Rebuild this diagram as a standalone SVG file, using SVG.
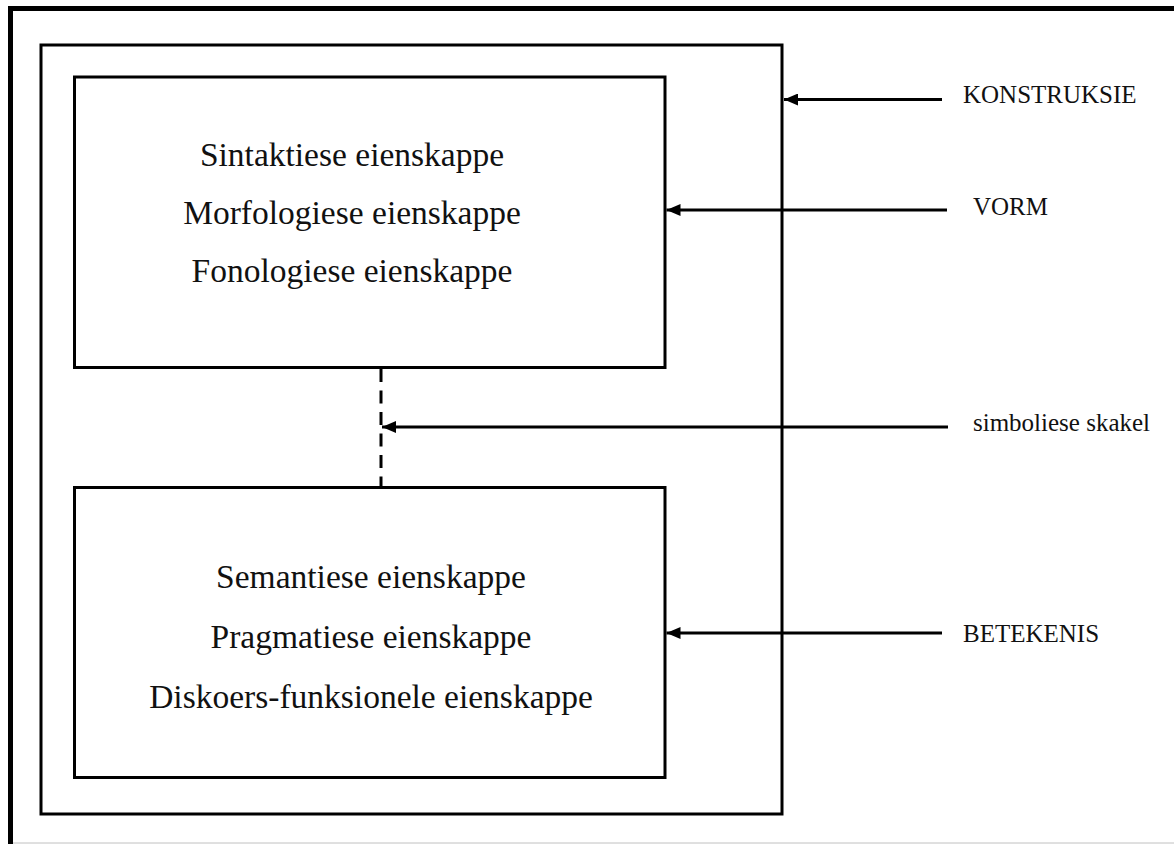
<svg xmlns="http://www.w3.org/2000/svg" width="1174" height="844" viewBox="0 0 1174 844">
<style>
.box{fill:none;stroke:#000;stroke-width:3}
.main{font-family:"Liberation Serif","Times New Roman",serif;font-size:33.5px;fill:#111;text-anchor:middle}
.lbl{font-family:"Liberation Serif","Times New Roman",serif;font-size:25px;fill:#111}
.conn{stroke:#000;stroke-width:3;fill:none}
</style>
<defs>
<marker id="ah" viewBox="0 0 14 12" refX="14" refY="6" markerWidth="14" markerHeight="12" markerUnits="userSpaceOnUse" orient="auto">
<path d="M0,0 L14,6 L0,12 z" fill="#000"/>
</marker>
</defs>
<rect width="1174" height="844" fill="#fff"/>
<g id="frame">
<path d="M10.5,844 V8.5 H1174" fill="none" stroke="#000" stroke-width="5"/>
<line x1="13" y1="843" x2="1174" y2="843" stroke="#c0c0c0" stroke-width="1"/>
</g>
<g id="konstruksie">
<rect class="box" x="41" y="45" width="741" height="769"/>
</g>
<g id="vorm">
<rect class="box" x="74.5" y="77" width="590.5" height="290.5"/>
<text class="main" x="352" y="166">Sintaktiese eienskappe</text>
<text class="main" x="352" y="224">Morfologiese eienskappe</text>
<text class="main" x="352" y="282">Fonologiese eienskappe</text>
</g>
<g id="betekenis">
<rect class="box" x="74.5" y="487.5" width="590.5" height="290"/>
<text class="main" x="371" y="588">Semantiese eienskappe</text>
<text class="main" x="371" y="648">Pragmatiese eienskappe</text>
<text class="main" x="371" y="708">Diskoers-funksionele eienskappe</text>
</g>
<g id="connectors">
<line class="conn" x1="381" y1="369" x2="381" y2="486" stroke-dasharray="13 8.5"/>
<line class="conn" x1="942" y1="99.5" x2="784" y2="99.5" marker-end="url(#ah)"/>
<line class="conn" x1="947" y1="210" x2="666.5" y2="210" marker-end="url(#ah)"/>
<line class="conn" x1="948" y1="427" x2="382" y2="427" marker-end="url(#ah)"/>
<line class="conn" x1="942" y1="633" x2="666.5" y2="633" marker-end="url(#ah)"/>
</g>
<g id="labels">
<text class="lbl" x="963" y="103">KONSTRUKSIE</text>
<text class="lbl" x="973" y="215">VORM</text>
<text class="lbl" x="973" y="431">simboliese skakel</text>
<text class="lbl" x="963" y="642">BETEKENIS</text>
</g>
</svg>
